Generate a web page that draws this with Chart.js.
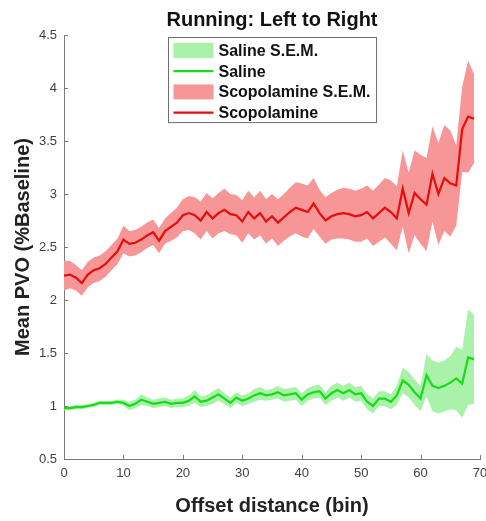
<!DOCTYPE html>
<html>
<head>
<meta charset="utf-8">
<title>Running: Left to Right</title>
<script src="https://cdn.jsdelivr.net/npm/chart.js@4.4.0/dist/chart.umd.min.js"></script>
<style>
  html, body { margin: 0; padding: 0; background: #fff; }
  #wrap { width: 486px; height: 521px; }
</style>
</head>
<body>
<div id="wrap"><canvas id="pvoChart" width="486" height="521"></canvas></div>
<script>
// PVO chart - running left to right, saline vs scopolamine

// offset bins
const bins = [
  0, 1, 2, 3, 4, 5, 6, 7, 8, 9,
  10, 11, 12, 13, 14, 15, 16, 17, 18, 19,
  20, 21, 22, 23, 24, 25, 26, 27, 28, 29,
  30, 31, 32, 33, 34, 35, 36, 37, 38, 39,
  40, 41, 42, 43, 44, 45, 46, 47, 48, 49,
  50, 51, 52, 53, 54, 55, 56, 57, 58, 59,
  60, 61, 62, 63, 64, 65, 66, 67, 68, 69,
];

const salineMean = [
  0.98, 0.98, 0.99, 0.99, 1.0, 1.01, 1.03, 1.03, 1.03, 1.04,
  1.03, 1.0, 1.02, 1.06, 1.04, 1.02, 1.03, 1.04, 1.02, 1.03,
  1.03, 1.05, 1.09, 1.04, 1.05, 1.08, 1.11, 1.07, 1.03, 1.08,
  1.05, 1.07, 1.1, 1.12, 1.1, 1.11, 1.13, 1.1, 1.11, 1.12,
  1.06, 1.11, 1.13, 1.14, 1.07, 1.12, 1.15, 1.12, 1.15, 1.11,
  1.12, 1.04, 1.0, 1.07, 1.07, 1.04, 1.1, 1.24, 1.2, 1.13,
  1.07, 1.29, 1.19, 1.17, 1.19, 1.22, 1.26, 1.21, 1.46, 1.44,
];

const salineSem = [
  0.02, 0.02, 0.02, 0.02, 0.02, 0.02, 0.02, 0.02, 0.02, 0.02,
  0.03, 0.04, 0.04, 0.05, 0.04, 0.04, 0.04, 0.04, 0.04, 0.04,
  0.04, 0.05, 0.06, 0.05, 0.05, 0.06, 0.06, 0.05, 0.05, 0.05,
  0.05, 0.05, 0.06, 0.06, 0.05, 0.05, 0.06, 0.06, 0.06, 0.06,
  0.06, 0.06, 0.06, 0.06, 0.06, 0.07, 0.07, 0.07, 0.07, 0.07,
  0.07, 0.07, 0.07, 0.07, 0.07, 0.07, 0.09, 0.12, 0.12, 0.12,
  0.12, 0.2, 0.24, 0.24, 0.24, 0.25, 0.3, 0.32, 0.45, 0.42,
];

const scopMean = [
  2.23, 2.24, 2.21, 2.16, 2.24, 2.28, 2.3, 2.34, 2.4, 2.46,
  2.57, 2.53, 2.54, 2.57, 2.61, 2.64, 2.56, 2.65, 2.69, 2.73,
  2.8, 2.82, 2.8, 2.75, 2.83, 2.77, 2.82, 2.85, 2.81, 2.8,
  2.74, 2.83, 2.77, 2.82, 2.74, 2.79, 2.73, 2.78, 2.83, 2.87,
  2.85, 2.83, 2.91, 2.82, 2.75, 2.79, 2.81, 2.82, 2.81, 2.79,
  2.8, 2.83, 2.77, 2.82, 2.87, 2.83, 2.77, 3.05, 2.82, 3.01,
  2.95, 2.9, 3.19, 3.0, 3.15, 3.1, 3.08, 3.61, 3.73, 3.71,
];

const scopSem = [
  0.14, 0.13, 0.12, 0.12, 0.12, 0.12, 0.12, 0.12, 0.12, 0.12,
  0.13, 0.12, 0.12, 0.12, 0.12, 0.12, 0.12, 0.12, 0.13, 0.14,
  0.15, 0.16, 0.17, 0.18, 0.18, 0.19, 0.19, 0.2, 0.19, 0.19,
  0.2, 0.2, 0.2, 0.21, 0.21, 0.21, 0.22, 0.22, 0.23, 0.24,
  0.25, 0.25, 0.24, 0.22, 0.22, 0.22, 0.23, 0.24, 0.24, 0.24,
  0.25, 0.25, 0.26, 0.27, 0.28, 0.3, 0.3, 0.36, 0.38, 0.4,
  0.42, 0.44, 0.45, 0.48, 0.5, 0.5, 0.38, 0.4, 0.53, 0.42,
];

const xTicks = [0, 10, 20, 30, 40, 50, 60, 70];
const yTicks = [0.5, 1, 1.5, 2, 2.5, 3, 3.5, 4, 4.5];

const colors = {
  saline: "#16dc16",
  salineBand: "#aaf2aa",
  scop: "#e50d0d",
  scopBand: "#f79696",
  axis: "#7a7a7a",
  tick: "#404040",
};

const fontFamily = "'Liberation Sans', Arial, Helvetica, sans-serif";

function toPoints(values) {
  return bins.map((b, i) => ({ x: b, y: values[i] }));
}

function band(mean, sem, sign) {
  return toPoints(mean.map((m, i) => m + sign * sem[i]));
}

// MATLAB style ticks pointing into the axes
const inwardTicks = {
  id: "inwardTicks",
  afterDraw(chart) {
    const { ctx, chartArea, scales } = chart;
    ctx.save();
    ctx.strokeStyle = colors.axis;
    ctx.lineWidth = 1;
    scales.x.ticks.forEach((t) => {
      const px = Math.round(scales.x.getPixelForValue(t.value)) + 0.5;
      ctx.beginPath();
      ctx.moveTo(px, chartArea.bottom);
      ctx.lineTo(px, chartArea.bottom - 4);
      ctx.stroke();
    });
    scales.y.ticks.forEach((t) => {
      const py = Math.round(scales.y.getPixelForValue(t.value)) + 0.5;
      ctx.beginPath();
      ctx.moveTo(chartArea.left, py);
      ctx.lineTo(chartArea.left + 4, py);
      ctx.stroke();
    });
    ctx.restore();
  },
};

// legend box inside the axes (north)
const insideLegend = {
  id: "insideLegend",
  afterDraw(chart) {
    const { ctx, chartArea } = chart;
    const items = chart.data.datasets.filter((d) => d.legendKind);
    ctx.save();
    ctx.font = "bold 16px " + fontFamily;
    const textW = Math.max(...items.map((d) => ctx.measureText(d.label).width));
    const symW = 40;
    const rowH = 20.7;
    const boxW = 5 + symW + 5 + textW + 6;
    const boxH = 13 + rowH * (items.length - 1) + 10;
    const left = Math.round((chartArea.left + chartArea.right) / 2 - boxW / 2) + 0.5;
    const top = Math.round(chartArea.top + 2) + 0.5;

    ctx.fillStyle = "#fff";
    ctx.fillRect(left, top, boxW, boxH);
    ctx.strokeStyle = "#6e6e6e";
    ctx.lineWidth = 1;
    ctx.strokeRect(left, top, boxW, boxH);

    items.forEach((d, i) => {
      const cy = top + 13 + i * rowH;
      if (d.legendKind === "band") {
        ctx.fillStyle = d.backgroundColor;
        ctx.fillRect(left + 5, cy - 7.5, symW, 15);
      } else {
        ctx.strokeStyle = d.borderColor;
        ctx.lineWidth = d.borderWidth;
        ctx.beginPath();
        ctx.moveTo(left + 5, cy);
        ctx.lineTo(left + 5 + symW, cy);
        ctx.stroke();
      }
      ctx.fillStyle = "#111";
      ctx.textBaseline = "middle";
      ctx.textAlign = "left";
      ctx.fillText(d.label, left + 5 + symW + 5, cy + 1);
    });
    ctx.restore();
  },
};

const lineDefaults = {
  pointRadius: 0,
  tension: 0,
};

const ctx = document.getElementById("pvoChart");
const chart = new Chart(ctx.getContext("2d"), {
  type: "line",
  data: {
    datasets: [
      {
        ...lineDefaults,
        label: "Saline S.E.M.",
        legendKind: "band",
        data: band(salineMean, salineSem, 1),
        borderWidth: 0,
        backgroundColor: colors.salineBand,
        fill: "+1",
        order: 2,
      },
      {
        ...lineDefaults,
        label: "saline lower",
        data: band(salineMean, salineSem, -1),
        borderWidth: 0,
        fill: false,
        order: 2,
      },
      {
        ...lineDefaults,
        label: "Saline",
        legendKind: "line",
        data: toPoints(salineMean),
        borderColor: colors.saline,
        borderWidth: 2.2,
        fill: false,
        order: 1,
      },
      {
        ...lineDefaults,
        label: "Scopolamine S.E.M.",
        legendKind: "band",
        data: band(scopMean, scopSem, 1),
        borderWidth: 0,
        backgroundColor: colors.scopBand,
        fill: "+1",
        order: 2,
      },
      {
        ...lineDefaults,
        label: "scop lower",
        data: band(scopMean, scopSem, -1),
        borderWidth: 0,
        fill: false,
        order: 2,
      },
      {
        ...lineDefaults,
        label: "Scopolamine",
        legendKind: "line",
        data: toPoints(scopMean),
        borderColor: colors.scop,
        borderWidth: 2.2,
        fill: false,
        order: 1,
      },
    ],
  },
  options: {
    responsive: false,
    animation: false,
    devicePixelRatio: 1,
    layout: {
      padding: { left: 0, right: 6, top: 0, bottom: 0 },
    },
    scales: {
      x: {
        type: "linear",
        min: 0,
        max: 70,
        afterBuildTicks: (scale) => {
          scale.ticks = xTicks.map((v) => ({ value: v }));
        },
        afterFit: (scale) => {
          scale.height = 62;
          // let the "70" label hang off the right edge like in MATLAB
          scale.paddingLeft = 0;
          scale.paddingRight = 0;
        },
        grid: { display: false, drawTicks: false, tickLength: 0 },
        border: { display: true, color: colors.axis, width: 1 },
        ticks: {
          color: colors.tick,
          font: { family: fontFamily, size: 13 },
          padding: 7,
          maxRotation: 0,
          callback: (v) => String(v),
        },
        title: {
          display: true,
          text: "Offset distance (bin)",
          color: "#222",
          font: { family: fontFamily, size: 20, weight: "bold" },
          padding: { top: 0, bottom: 3 },
        },
      },
      y: {
        type: "linear",
        min: 0.5,
        max: 4.5,
        afterBuildTicks: (scale) => {
          scale.ticks = yTicks.map((v) => ({ value: v }));
        },
        afterFit: (scale) => {
          scale.width = 64;
          scale.paddingTop = 0;
          scale.paddingBottom = 0;
        },
        grid: { display: false, drawTicks: false, tickLength: 0 },
        border: { display: true, color: colors.axis, width: 1 },
        ticks: {
          color: colors.tick,
          font: { family: fontFamily, size: 13 },
          padding: 7,
          callback: (v) => String(v),
        },
        title: {
          display: true,
          text: "Mean PVO (%Baseline)",
          color: "#222",
          font: { family: fontFamily, size: 20, weight: "bold" },
          padding: { top: 11, bottom: 0 },
        },
      },
    },
    plugins: {
      legend: { display: false },
      tooltip: { enabled: false },
      title: {
        display: true,
        fullSize: false,
        text: "Running: Left to Right",
        color: "#111",
        font: { family: fontFamily, size: 20, weight: "bold" },
        padding: { top: 8, bottom: 3 },
      },
    },
  },
  plugins: [inwardTicks, insideLegend],
});
</script>
</body>
</html>
